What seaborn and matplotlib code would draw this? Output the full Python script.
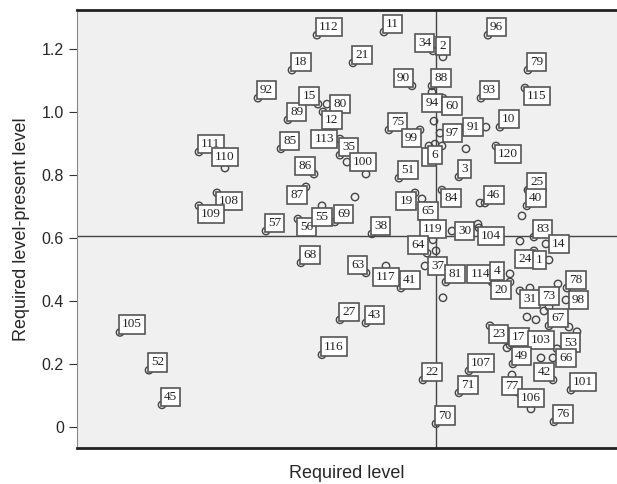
import matplotlib
matplotlib.use("Agg")
import matplotlib.pyplot as plt
import seaborn as sns
import pandas as pd

# point labels ('' = no label), required level, required-present gap
labels = [
    "105", "52", "45", "111", "110", "108", "109", "92", "18", "112",
    "89", "15", "80", "12", "85", "86", "87", "57", "56", "55",
    "69", "", "38", "19", "", "51", "5", "6", "75", "99",
    "90", "34", "11", "21", "2", "88", "94", "60", "93", "96",
    "79", "115", "91", "10", "97", "", "", "120", "3", "25",
    "40", "", "84", "46", "", "65", "119", "30", "", "104",
    "83", "", "14", "24", "1", "64", "", "37", "81", "114",
    "4", "", "20", "", "", "31", "78", "", "73", "",
    "98", "67", "", "", "", "", "23", "17", "", "103",
    "53", "66", "49", "107", "71", "77", "", "42", "106", "",
    "101", "76", "70", "22", "116", "27", "43", "68", "63", "117",
    "41", "113", "35", "100", "", "",
]
required_level = [
    0.43, 0.72, 0.85, 1.22, 1.48, 1.40, 1.22, 1.81, 2.15, 2.40,
    2.11, 2.41, 2.50, 2.46, 2.04, 2.37, 2.29, 1.89, 2.21, 2.45,
    2.58, 2.78, 2.95, 3.38, 3.45, 3.22, 3.52, 3.58, 3.12, 3.43,
    3.35, 3.56, 3.07, 2.76, 3.66, 3.55, 3.55, 3.66, 4.04, 4.11,
    4.51, 4.48, 4.09, 4.23, 3.63, 3.65, 3.89, 4.19, 3.82, 4.51,
    4.50, 4.45, 3.65, 4.08, 4.03, 3.51, 3.56, 3.75, 4.01, 4.02,
    4.57, 4.43, 4.69, 4.57, 4.72, 3.50, 3.59, 3.48, 3.69, 4.15,
    4.20, 4.33, 4.33, 3.66, 4.43, 4.53, 4.90, 4.81, 4.72, 4.67,
    4.89, 4.72, 4.92, 5.00, 4.50, 4.59, 4.13, 4.33, 4.30, 4.64,
    4.80, 4.76, 4.36, 3.92, 3.82, 4.35, 4.40, 4.76, 4.54, 4.49,
    4.94, 4.77, 3.59, 3.46, 2.45, 2.63, 2.89, 2.24, 2.89, 3.09,
    3.24, 2.63, 2.63, 2.70, 2.89, 3.57,
]
gap = [
    0.30, 0.18, 0.07, 0.873, 0.822, 0.743, 0.702, 1.044, 1.133, 1.244,
    0.975, 1.025, 1.025, 1.000, 0.883, 0.803, 0.762, 0.622, 0.660, 0.702,
    0.651, 0.730, 0.613, 0.743, 0.724, 0.790, 0.892, 0.898, 0.943, 0.943,
    1.083, 1.194, 1.254, 1.156, 1.175, 1.083, 1.063, 1.044, 1.044, 1.244,
    1.133, 1.076, 0.952, 0.952, 0.933, 0.892, 0.883, 0.892, 0.794, 0.752,
    0.702, 0.670, 0.752, 0.711, 0.711, 0.651, 0.594, 0.622, 0.644, 0.632,
    0.603, 0.590, 0.581, 0.559, 0.530, 0.552, 0.559, 0.511, 0.460, 0.460,
    0.460, 0.486, 0.460, 0.410, 0.432, 0.441, 0.441, 0.454, 0.381, 0.368,
    0.403, 0.321, 0.317, 0.302, 0.349, 0.340, 0.321, 0.260, 0.251, 0.219,
    0.248, 0.219, 0.200, 0.178, 0.108, 0.165, 0.111, 0.149, 0.057, 0.098,
    0.117, 0.016, 0.010, 0.149, 0.229, 0.340, 0.330, 0.521, 0.489, 0.511,
    0.441, 0.914, 0.863, 0.841, 0.803, 0.971,
]

mean_required = 3.59
mean_gap = 0.606

# where each label box sits relative to its point (default: upper right)
label_side = {
    "110": "u", "108": "lr", "109": "lr", "15": "ul", "80": "r", "12": "lr",
    "86": "ul", "87": "ll", "56": "lr", "55": "b", "19": "ll", "5": "b",
    "6": "b", "99": "ll", "90": "ul", "34": "ul", "2": "u", "94": "b",
    "60": "lr", "115": "lr", "91": "l", "97": "r", "120": "lr", "84": "lr",
    "65": "u", "119": "u", "30": "r", "104": "lr", "14": "r", "24": "ll",
    "1": "l", "64": "ul", "37": "r", "114": "ul", "4": "u", "20": "ll",
    "31": "b", "73": "u", "98": "r", "23": "lr", "103": "uu", "77": "b",
    "42": "ul", "106": "u", "63": "ul", "117": "b", "113": "l", "100": "r",
    "101": "ur", "53": "rb", "66": "r",
}
side_opts = {
    "ur": ((2, 2), "left", "bottom"),
    "ul": ((-2, 2), "right", "bottom"),
    "lr": ((2, -2), "left", "top"),
    "ll": ((-2, -2), "right", "top"),
    "u": ((0, 5), "center", "bottom"),
    "uu": ((0, 12), "center", "bottom"),
    "b": ((0, -5), "center", "top"),
    "r": ((6, 0), "left", "center"),
    "rb": ((7, 0), "left", "bottom"),
    "l": ((-6, 0), "right", "center"),
}

df = pd.DataFrame({"label": labels, "required": required_level, "gap": gap})

sns.set_style("ticks", {"axes.facecolor": "#f0f0f0"})
plt.rcParams["font.family"] = ["Liberation Sans", "DejaVu Sans"]

fig = plt.figure(figsize=(6.17, 4.84), dpi=100)
ax = fig.add_axes([0.1248, 0.0744, 0.8752, 0.905])

ax.axvline(mean_required, color="#444444", lw=1.0, zorder=1)
ax.axhline(mean_gap, color="#444444", lw=1.0, zorder=1)

sns.scatterplot(data=df, x="required", y="gap", ax=ax, marker="o", s=28,
                facecolor="none", edgecolor="#444444", linewidth=1.0, zorder=3)

for _, row in df.iterrows():
    if not row["label"]:
        continue
    offset, ha, va = side_opts[label_side.get(row["label"], "ur")]
    ax.annotate(row["label"], (row["required"], row["gap"]), xytext=offset,
                textcoords="offset pixels", ha=ha, va=va, fontsize=9.5,
                family="Liberation Serif", color="#222222", zorder=4,
                bbox=dict(boxstyle="square,pad=0.25", fc="white",
                          ec="#555555", lw=1.2))

ax.set_xlim(0, 5.4)
ax.set_ylim(-0.067, 1.324)
ax.set_xticks([])
ax.set_yticks([0, 0.2, 0.4, 0.6, 0.8, 1.0, 1.2])
ax.set_yticklabels(["0", "0.2", "0.4", "0.6", "0.8", "1.0", "1.2"])
ax.tick_params(axis="y", labelsize=11.5, length=6, color="#333333")
ax.set_xlabel("Required level", fontsize=13, labelpad=12)
ax.set_ylabel("Required level-present level", fontsize=13, labelpad=8)

ax.spines["top"].set_linewidth(2)
ax.spines["bottom"].set_linewidth(2)
ax.spines["top"].set_color("#222222")
ax.spines["bottom"].set_color("#222222")
ax.spines["left"].set_color("#888888")
ax.spines["right"].set_visible(False)

fig.savefig("out.png", dpi=100)
